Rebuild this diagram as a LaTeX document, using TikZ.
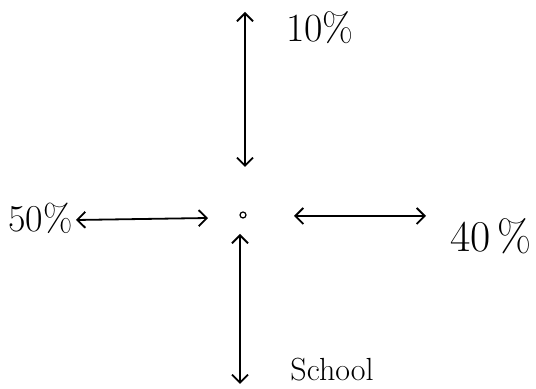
\documentclass[tikz,border=0pt]{standalone}
\usepackage{tikz}
\usetikzlibrary{arrows,arrows.meta,positioning}

\tikzset{
  share/.style={font=\fontsize{22}{24}\selectfont},
  twoway/.style={<->, line width=0.9pt},
  hub/.style={circle, draw, line width=0.6pt, inner sep=0pt, minimum size=3pt}
}

\begin{document}
\begin{tikzpicture}[x=0.5pt, y=-0.5pt, >={Straight Barb[length=4pt, width=8pt]}]
        \useasboundingbox (0, 0) rectangle (536, 389);

        % Centre point
        \node[hub] (hub) at (243, 215) {};

        % Arrow end points
        \coordinate (upA) at (245, 12);
        \coordinate (upB) at (245, 167);
        \coordinate (leftA) at (76, 220);
        \coordinate (leftB) at (208, 218);
        \coordinate (rightA) at (294, 216);
        \coordinate (rightB) at (426, 216);
        \coordinate (downA) at (240, 234);
        \coordinate (downB) at (240, 384);

        % Two-way arrows
        \draw[twoway] (upA) -- (upB);
        \draw[twoway] (leftA) -- (leftB);
        \draw[twoway] (rightA) -- (rightB);
        \draw[twoway] (downA) -- (downB);

        % Labels
        \node[share, font=\fontsize{20}{22}\selectfont] (top) at (320, 28) {10\%};
        \node[share, font=\fontsize{19}{21}\selectfont, inner sep=0pt, anchor=east] (left) at (73, 218) {50\%};
        \node[share] (right) at (491, 236) {40\,\%};
        \node[font=\fontsize{16}{18}\selectfont, anchor=base] (bottom) at (332, 381) {School};
\end{tikzpicture}
\end{document}
